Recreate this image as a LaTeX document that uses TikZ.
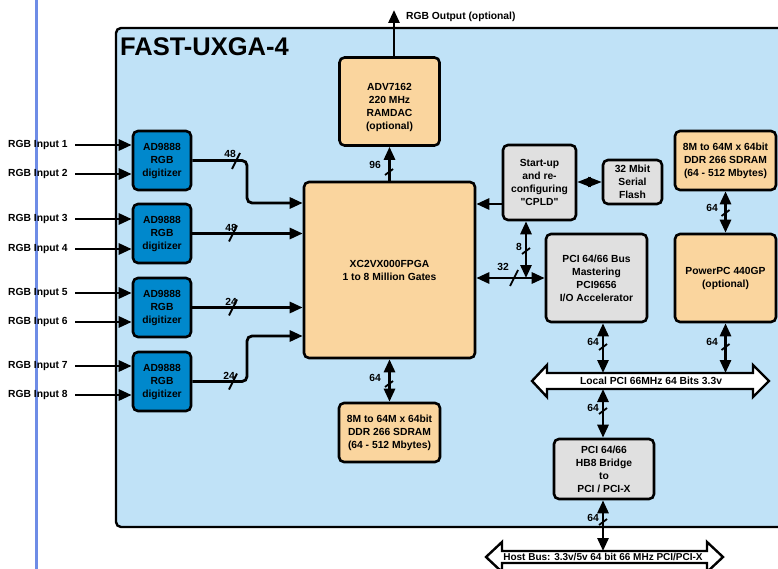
\documentclass[tikz,border=0pt]{standalone}
\usepackage{fontspec}
\setmainfont{Liberation Sans}
\newfontfamily\qfont{Liberation Sans}
\newcommand\dquote{{\qfont\symbol{34}}}
\usetikzlibrary{arrows.meta}
\definecolor{boardblue}{HTML}{C0E2F7}
\definecolor{orangefill}{HTML}{FAD59E}
\definecolor{digblue}{HTML}{0088CC}
\definecolor{greyfill}{HTML}{E0E0E0}
\definecolor{leftline}{HTML}{6E8CE6}
\tikzset{
  hsl/.pic={\draw[line width=1.8pt] (-4,8) -- (4,-8);},
  vsl/.pic={\draw[line width=1.8pt] (-4,3) -- (4,-3);},
}
\begin{document}
\begin{tikzpicture}[x=1pt,y=-1pt,
  >={Triangle[length=13pt,width=11pt]},
  every node/.style={font=\bfseries\fontsize{10.3}{13}\selectfont, text=black},
  blk/.style={draw, line width=2.6pt, rounded corners=5pt, align=center, inner sep=0pt},
  orangebox/.style={blk, fill=orangefill},
  digbox/.style={blk, fill=digblue, minimum width=58pt, minimum height=59pt},
  greybox/.style={blk, fill=greyfill},
  conn/.style={line width=2.8pt},
  lbl/.style={inner sep=0pt},
]
\useasboundingbox (0,0) rectangle (778,569);
\fill[white] (0,0) rectangle (778,569);
\draw[leftline, line width=3pt] (36,0) -- (36,569);
\begin{scope}
\clip (0,0) rectangle (778,569);
\draw[line width=2.4pt, fill=boardblue, rounded corners=5pt] (116,28) rectangle (800,527);
\end{scope}

% title
\node[lbl, anchor=west, font=\bfseries\fontsize{25.5}{30}\selectfont] (title) at (120,47) {FAST-UXGA-4};

% boxes
\node[orangebox, minimum width=100pt, minimum height=88pt] (adv) at (389.5,101.5) {\rule{0pt}{19pt}ADV7162\\220 MHz\\RAMDAC\\(optional)};
\node[orangebox, minimum width=171pt, minimum height=176pt] (fpga) at (389.5,270) {XC2VX000FPGA\\1 to 8 Million Gates};
\node[orangebox, minimum width=101pt, minimum height=59pt] (sd1) at (389.5,432.5) {8M to 64M x 64bit\\DDR 266 SDRAM\\(64 - 512 Mbytes)};
\node[orangebox, minimum width=101pt, minimum height=59pt] (sd2) at (725.5,160.5) {8M to 64M x 64bit\\DDR 266 SDRAM\\(64 - 512 Mbytes)};
\node[orangebox, minimum width=101pt, minimum height=88pt] (ppc) at (725.5,278) {PowerPC 440GP\\(optional)};
\node[greybox, minimum width=73pt, minimum height=75pt] (cpld) at (539.5,182.5) {Start-up\\and re-\\configuring\\\dquote CPLD\dquote};
\node[greybox, minimum width=59pt, minimum height=44pt] (flash) at (632.5,182) {32 Mbit\\Serial\\Flash};
\node[greybox, minimum width=101pt, minimum height=88pt] (pci) at (596.5,278) {PCI 64/66 Bus\\Mastering\\PCI9656\\I/O Accelerator};
\node[greybox, minimum width=100pt, minimum height=60pt] (hb8) at (604,469) {PCI 64/66\\HB8 Bridge\\to\\PCI / PCI-X};

\node[digbox] (d1) at (162,160.5) {AD9888\\RGB\\digitizer};
\node[digbox] (d2) at (162,233.5) {AD9888\\RGB\\digitizer};
\node[digbox] (d3) at (162,307.5) {AD9888\\RGB\\digitizer};
\node[digbox] (d4) at (162,381.5) {AD9888\\RGB\\digitizer};

% inputs
\node[lbl, anchor=west] (in1) at (8,145) {RGB Input 1};
\node[lbl, anchor=west] (in2) at (8,174) {RGB Input 2};
\node[lbl, anchor=west] (in3) at (8,219) {RGB Input 3};
\node[lbl, anchor=west] (in4) at (8,249) {RGB Input 4};
\node[lbl, anchor=west] (in5) at (8,293) {RGB Input 5};
\node[lbl, anchor=west] (in6) at (8,322) {RGB Input 6};
\node[lbl, anchor=west] (in7) at (8,366) {RGB Input 7};
\node[lbl, anchor=west] (in8) at (8,395) {RGB Input 8};
\foreach \i/\d in {1/d1,2/d1,3/d2,4/d2,5/d3,6/d3,7/d4,8/d4}{
  \draw[conn,->] (75,0 |- in\i.east) -- (\d.west |- in\i.east);
}

% digitizer outputs
\draw[conn,->,rounded corners=5pt] (d1.east) -- (247,0 |- d1.east) -- (247,203) -- (fpga.west |- 0,203);
\draw[conn,->] (d2.east) -- (fpga.west |- d2.east);
\draw[conn,->] (d3.east) -- (fpga.west |- d3.east);
\draw[conn,->,rounded corners=5pt] (d4.east) -- (247,0 |- d4.east) -- (247,336) -- (fpga.west |- 0,336);
\pic at (236,161) {hsl};
\pic at (233,233.5) {hsl};
\pic at (233,307.5) {hsl};
\pic at (233,381.5) {hsl};
\node[lbl] (l48a) at (230,154) {48};
\node[lbl] (l48b) at (231,228) {48};
\node[lbl] (l24a) at (231,302) {24};
\node[lbl] (l24b) at (229,376) {24};

% RGB output
\coordinate (outend) at (394,10);
\draw[conn,->] (394,0 |- adv.north) -- (outend);
\node[lbl, anchor=west] (outl) at (406,16.5) {RGB Output (optional)};

% FPGA - ADV
\draw[conn,->] (fpga.north) -- (adv.south);
\pic at (389,172) {vsl};
\node[lbl, anchor=east] (l96) at (381,165) {96};

% FPGA - SDRAM
\draw[conn,<->] (fpga.south) -- (sd1.north);
\pic at (389,384) {vsl};
\node[lbl, anchor=east] (l64a) at (381,378) {64};

% CPLD
\draw[conn,->] (cpld.west |- 0,204) -- (fpga.east |- 0,204);
\draw[line width=1.5pt,{Triangle[length=13.5pt,width=10pt]}-{Triangle[length=13.5pt,width=10pt]}] (cpld.east |- flash.west) -- (flash.west);
\coordinate (j) at (526,278);
\draw[conn,<->] (cpld.south -| j) -- (j);
\pic at (526,251) {vsl};
\node[lbl, anchor=east] (l8) at (522,247) {8};
\draw[conn,<->] (fpga.east |- pci.west) -- (pci.west);
\pic at (514,278) {hsl};
\node[lbl] (l32) at (503,267) {32};

% SDRAM2 - PPC
\draw[conn,<->] (sd2.south) -- (ppc.north);
\pic at (725.5,213) {vsl};
\node[lbl, anchor=east] (l64b) at (718,208) {64};

% Local PCI bus
\draw[line width=2.4pt, fill=white] (532,381) -- (547,365) -- (547,373) -- (753,373) -- (753,365) -- (769,381) -- (753,397) -- (753,389) -- (547,389) -- (547,397) -- cycle;
\node (lbus) at (651,381) {Local PCI 66MHz 64 Bits 3.3v};
\coordinate (lb1t) at (603,373);
\coordinate (lb2t) at (725.5,373);
\coordinate (lb1b) at (603,389);
\draw[conn,<->] (pci.south -| lb1t) -- (lb1t);
\pic at (603,347) {vsl};
\node[lbl, anchor=east] (l64c) at (599,342) {64};
\draw[conn,<->] (ppc.south) -- (lb2t);
\pic at (725.5,347) {vsl};
\node[lbl, anchor=east] (l64d) at (718,342) {64};
\draw[conn,<->] (lb1b) -- (hb8.north -| lb1b);
\pic at (603,411) {vsl};
\node[lbl, anchor=east] (l64e) at (599,408) {64};

% Host bus
\draw[line width=2.4pt, fill=white] (486,557) -- (502,542) -- (502,551) -- (707,551) -- (707,542) -- (723,557) -- (707,572) -- (707,563) -- (502,563) -- (502,572) -- cycle;
\node (hbus) at (603,557) {\fontsize{10}{12}\selectfont Host Bus: 3.3v/5v 64 bit 66 MHz PCI/PCI-X};
\coordinate (hbt) at (603,551);
\draw[conn,<->] (hb8.south -| hbt) -- (hbt);
\pic at (603,522) {vsl};
\node[lbl, anchor=east] (l64f) at (599,518) {64};
\end{tikzpicture}
\end{document}
